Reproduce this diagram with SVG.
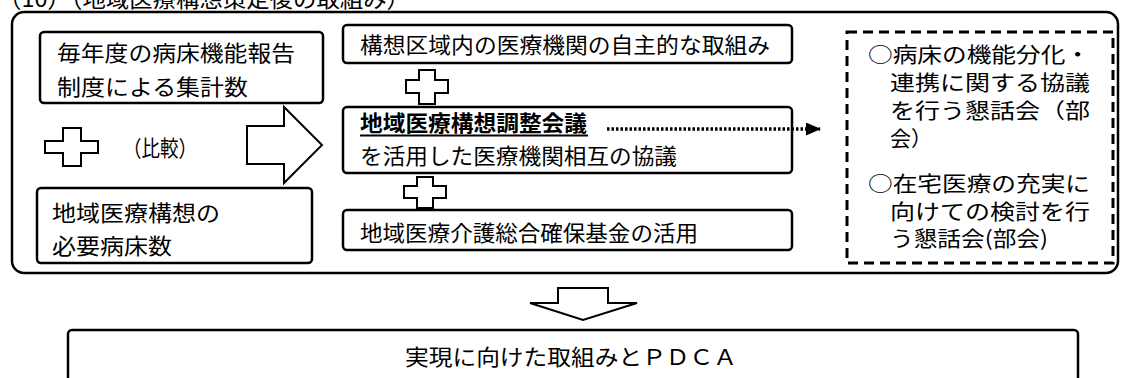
<svg xmlns="http://www.w3.org/2000/svg" width="1124" height="378" viewBox="0 0 1124 378">
<defs>
<style>
text{font-family:"Noto Sans CJK JP","Noto Sans",sans-serif;fill:#000;font-size:22px}
.box{fill:#fff;stroke:#000;stroke-width:2.5}
.shape{fill:#fff;stroke:#000;stroke-width:2}
.dash{fill:none;stroke:#000;stroke-width:3;stroke-dasharray:10 6}
.dot{fill:none;stroke:#000;stroke-width:3.5;stroke-dasharray:2.5 2}
.side{font-size:21px}
</style>
<marker id="ah" markerWidth="15" markerHeight="14" refX="14" refY="6.5" orient="auto" markerUnits="userSpaceOnUse"><path d="M0,0 L15,6.5 L0,13 Z" fill="#000"/></marker>
</defs>
<rect width="1124" height="378" fill="#fff"/>
<text x="-2" y="7" font-size="24" textLength="412" lengthAdjust="spacingAndGlyphs">（10）（地域医療構想策定後の取組み）</text>
<g id="frame"><rect class="box" x="12" y="12" width="1106" height="261" rx="12"/></g>
<g id="n-report">
<rect class="box" x="40" y="32" width="283" height="71" rx="4"/>
<text x="57" y="61" textLength="238" lengthAdjust="spacingAndGlyphs">毎年度の病床機能報告</text>
<text x="57" y="95" textLength="191" lengthAdjust="spacingAndGlyphs">制度による集計数</text>
</g>
<g id="n-compare">
<polygon class="shape" points="63,128 81,128 81,141 98,141 98,153 81,153 81,166 63,166 63,153 45,153 45,141 63,141"/>
<text x="123" y="156" font-size="20" textLength="74" lengthAdjust="spacingAndGlyphs">（比較）</text>
</g>
<g id="n-beds">
<rect class="box" x="37" y="188" width="275" height="75" rx="4"/>
<text x="52" y="221" textLength="168" lengthAdjust="spacingAndGlyphs">地域医療構想の</text>
<text x="52" y="254" textLength="120" lengthAdjust="spacingAndGlyphs">必要病床数</text>
</g>
<g id="n-arrow-right"><polygon class="shape" points="247,126 284,126 284,107 322,145 284,183 284,164 247,164"/></g>
<g id="n-voluntary">
<rect class="box" x="343" y="25" width="449" height="38" rx="4"/>
<text x="360" y="53" textLength="410" lengthAdjust="spacingAndGlyphs">構想区域内の医療機関の自主的な取組み</text>
</g>
<g id="n-plus1"><polygon class="shape" points="419,70 435,70 435,80 448,80 448,93 435,93 435,104 419,104 419,93 406,93 406,80 419,80"/></g>
<g id="n-council">
<rect class="box" x="343" y="107" width="449" height="66" rx="4"/>
<text x="360" y="131" font-weight="bold" textLength="227" lengthAdjust="spacingAndGlyphs">地域医療構想調整会議</text>
<line x1="360" y1="135.5" x2="588" y2="135.5" stroke="#000" stroke-width="2"/>
<text x="360" y="164" textLength="317" lengthAdjust="spacingAndGlyphs">を活用した医療機関相互の協議</text>
</g>
<g id="n-plus2"><polygon class="shape" points="417,177 433,177 433,186 446,186 446,198 433,198 433,208 417,208 417,198 404,198 404,186 417,186"/></g>
<g id="n-fund">
<rect class="box" x="343" y="210" width="449" height="40" rx="4"/>
<text x="360" y="241" textLength="338" lengthAdjust="spacingAndGlyphs">地域医療介護総合確保基金の活用</text>
</g>
<g id="n-meetings">
<rect class="dash" x="847" y="32" width="266" height="231"/>
<text class="side" x="868" y="62" textLength="222" lengthAdjust="spacingAndGlyphs">○病床の機能分化・</text>
<text class="side" x="890" y="90" textLength="200" lengthAdjust="spacingAndGlyphs">連携に関する協議</text>
<text class="side" x="890" y="118" textLength="200" lengthAdjust="spacingAndGlyphs">を行う懇話会（部</text>
<text class="side" x="890" y="146">会）</text>
<text class="side" x="868" y="191" textLength="222" lengthAdjust="spacingAndGlyphs">○在宅医療の充実に</text>
<text class="side" x="890" y="219" textLength="200" lengthAdjust="spacingAndGlyphs">向けての検討を行</text>
<text class="side" x="890" y="246" textLength="158" lengthAdjust="spacingAndGlyphs">う懇話会(部会)</text>
</g>
<g id="n-arrow-down"><polygon class="shape" points="558,288 608,288 608,303 637,303 583,320 530,303 558,303"/></g>
<g id="n-pdca">
<rect class="box" x="68" y="330" width="1010" height="80" rx="4"/>
<text x="405" y="365" font-size="20" textLength="332" lengthAdjust="spacingAndGlyphs">実現に向けた取組みとＰＤＣＡ</text>
</g>
<g id="connectors">
<line class="dot" x1="607" y1="129" x2="820" y2="129" marker-end="url(#ah)"/>
</g>
</svg>
